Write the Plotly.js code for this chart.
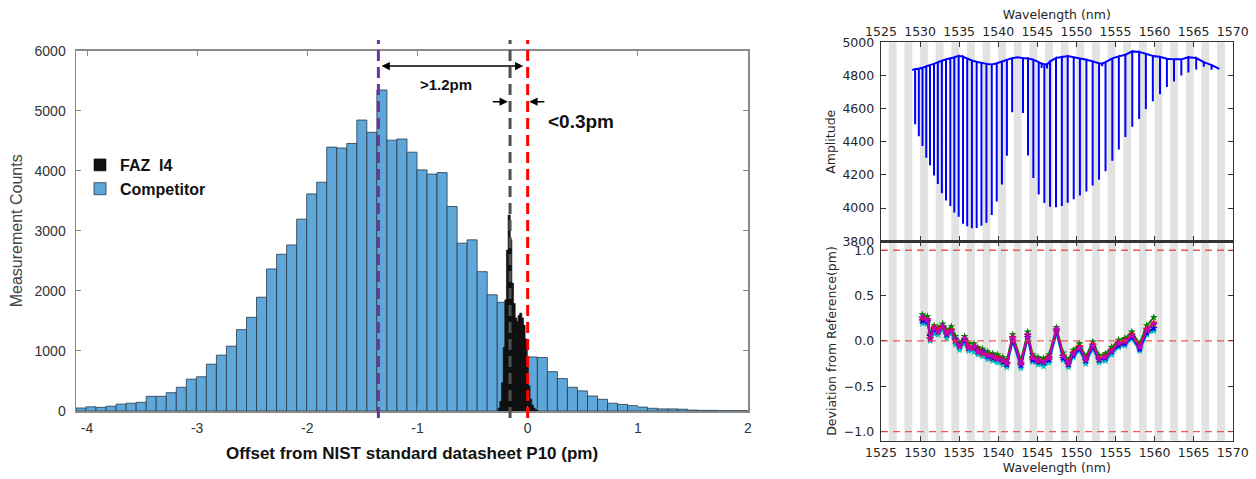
<!DOCTYPE html>
<html>
<head>
<meta charset="utf-8">
<script src="https://cdn.plot.ly/plotly-3.0.1.min.js"></script>
<style>
  html, body { margin: 0; padding: 0; background: #ffffff; }
  #chart { width: 1256px; height: 479px; }
</style>
</head>
<body>
<div id="chart"></div>
<script>
// ---------------- Left chart: histogram of offsets ----------------
const histBinStart = -4.1;        // left edge of first competitor bin (pm)
const histBinWidth = 0.09104;     // competitor bin width (pm)
const competitorCounts = [50, 70, 60, 80, 115, 130, 145, 245, 245, 305,
  395, 530, 570, 780, 930, 1080, 1355, 1560, 1895, 2365,
  2610, 2765, 3195, 3615, 3810, 4395, 4380, 4455, 4845, 4640,
  5345, 4510, 4530, 4310, 4015, 3945, 3970, 3405, 2795, 2850,
  2320, 1935, 1810, 1480, 1195, 900, 890, 655, 540, 395,
  335, 250, 195, 130, 110, 90, 65, 45, 35, 35,
  30, 15, 10, 10, 5, 5, 5];

const fazOffsets = [-0.258, -0.243, -0.228, -0.213, -0.198, -0.183, -0.168, -0.153,
  -0.138, -0.123, -0.108, -0.093, -0.078, -0.063, -0.048, -0.033, -0.018, -0.003,
  0.012, 0.027, 0.042, 0.057, 0.072, 0.087];
const fazCounts = [50, 160, 470, 1060, 1850, 2680, 3264, 2850,
  2130, 1790, 1550, 1490, 1590, 1630, 1550, 1430, 1200, 820,
  420, 200, 100, 50, 20, 5];
const fazBarWidth = 0.02;

const seriesNames = ['FAZ  I4', 'Competitor'];
const histTickVals = [-4, -3, -2, -1, 0, 1, 2];
const histTickText = ['-4', '-3', '-2', '-1', '0', '1', '2'];

// mean markers: competitor mean, FAZ mean, NIST reference
const meanLinesX = [-1.355, -0.16, 0];
const meanLineColors = ['#7030a0', '#505050', '#ff0000'];

// ---------------- Right chart: gas-cell spectrum ----------------
const specEdgeNm = [1529.0, 1568.3];
const specEdgeAmp = [4833, 4840];
const specNm = [1529.37, 1529.84, 1530.31, 1530.79, 1531.27, 1531.78, 1532.27, 1532.79, 1533.32, 1533.87,
  1534.38, 1534.94, 1535.49, 1536.03, 1536.63, 1537.24, 1537.85, 1538.49, 1539.17, 1539.81,
  1540.47, 1541.11, 1541.78, 1542.45, 1543.17, 1543.81, 1544.49, 1545.18, 1545.55, 1545.90,
  1546.25, 1546.63, 1547.39, 1548.14, 1548.89, 1549.66, 1550.45, 1551.28, 1552.08, 1552.90,
  1553.30, 1553.73, 1554.60, 1555.43, 1556.27, 1557.15, 1558.03, 1558.89, 1559.78, 1560.70,
  1561.58, 1562.49, 1563.43, 1564.33, 1565.33, 1566.30, 1567.30];
const specTop = [4838, 4841, 4846, 4855, 4862, 4870, 4880, 4889, 4897, 4903,
  4910, 4918, 4914, 4902, 4890, 4882, 4876, 4870, 4866, 4874,
  4884, 4894, 4904, 4910, 4905, 4903, 4895, 4880, 4872, 4868,
  4866, 4885, 4905, 4912, 4917, 4910, 4902, 4895, 4885, 4873,
  4872, 4880, 4903, 4915, 4925, 4945, 4942, 4930, 4918, 4912,
  4900, 4897, 4897, 4910, 4905, 4880, 4862];
const specLow = [4506, 4433, 4374, 4303, 4258, 4197, 4145, 4090, 4046, 4012,
  3973, 3948, 3905, 3890, 3878, 3880, 3893, 3912, 3958, 4040,
  4142, 4315, 4578, 4910, 4573, 4317, 4181, 4081, 4845, 4030,
  4842, 4008, 4005, 4012, 4032, 4053, 4076, 4100, 4136, 4170,
  4855, 4222, 4285, 4353, 4428, 4490, 4538, 4598, 4644, 4686,
  4730, 4763, 4799, 4818, 4836, 4852, 4835];

// channel bands (nm)
const bandStart = [1526, 1528, 1530, 1532, 1534, 1536, 1538, 1540, 1542, 1544, 1546,
  1548, 1550, 1552, 1554, 1556, 1558, 1560, 1562, 1564, 1566, 1568];
const bandWidthNm = 1;

// deviation from reference (pm), repeated measurements
const devNm = [1530.3, 1530.95, 1531.3, 1531.8, 1532.3, 1532.9, 1533.4, 1534.0, 1534.5, 1535.05,
  1535.7, 1536.2, 1536.9, 1537.4, 1538.0, 1538.65, 1539.3, 1539.9, 1540.6, 1541.1,
  1541.85, 1542.9, 1543.77, 1544.4, 1545.1, 1545.8, 1546.5, 1547.45, 1548.3, 1548.97,
  1549.6, 1550.4, 1551.2, 1552.1, 1552.9, 1553.7, 1554.5, 1555.4, 1556.2, 1557.1,
  1558.1, 1559.0, 1559.9];
const devK = [0.23, 0.22, 0.05, 0.13, 0.11, 0.16, 0.08, 0.12, 0.02, -0.05, 0.01, -0.07, -0.07, -0.11, -0.14, -0.16, -0.18, -0.19, -0.22, -0.25, 0.04, -0.26, 0.06, -0.19, -0.22, -0.23, -0.19, 0.12, -0.17, -0.25, -0.14, -0.07, -0.21, -0.05, -0.20, -0.18, -0.11, -0.03, -0.01, 0.06, -0.07, 0.12, 0.18];
const devY = [0.21, 0.20, 0.02, 0.11, 0.08, 0.13, 0.06, 0.09, -0.01, -0.08, -0.01, -0.09, -0.09, -0.13, -0.15, -0.18, -0.20, -0.22, -0.24, -0.27, 0.01, -0.27, 0.04, -0.21, -0.24, -0.25, -0.21, 0.10, -0.19, -0.27, -0.16, -0.09, -0.23, -0.07, -0.22, -0.20, -0.13, -0.05, -0.03, 0.04, -0.09, 0.10, 0.15];
const devC = [0.19, 0.19, 0.00, 0.08, 0.07, 0.12, 0.03, 0.08, -0.04, -0.10, -0.03, -0.11, -0.12, -0.15, -0.17, -0.20, -0.22, -0.24, -0.26, -0.29, -0.01, -0.30, 0.02, -0.23, -0.26, -0.28, -0.24, 0.08, -0.21, -0.29, -0.18, -0.11, -0.25, -0.09, -0.24, -0.22, -0.15, -0.07, -0.05, 0.02, -0.11, 0.07, 0.11];
const devG = [0.29, 0.27, 0.08, 0.17, 0.15, 0.19, 0.12, 0.16, 0.05, -0.02, 0.05, -0.03, -0.03, -0.07, -0.09, -0.12, -0.14, -0.15, -0.18, -0.21, 0.07, -0.21, 0.10, -0.15, -0.18, -0.19, -0.15, 0.15, -0.13, -0.21, -0.10, -0.03, -0.17, -0.01, -0.16, -0.14, -0.07, 0.01, 0.03, 0.10, -0.03, 0.17, 0.26];
const devB = [0.22, 0.21, 0.06, 0.12, 0.10, 0.15, 0.07, 0.11, 0.02, -0.05, 0.00, -0.08, -0.08, -0.12, -0.12, -0.17, -0.19, -0.20, -0.23, -0.26, 0.01, -0.27, 0.04, -0.21, -0.23, -0.24, -0.21, 0.10, -0.19, -0.26, -0.16, -0.09, -0.22, -0.07, -0.21, -0.19, -0.12, -0.05, -0.03, 0.04, -0.09, 0.09, 0.14];
const devR = [0.25, 0.24, 0.03, 0.15, 0.12, 0.15, 0.09, 0.12, 0.00, -0.06, 0.02, -0.06, -0.07, -0.10, -0.14, -0.15, -0.18, -0.18, -0.22, -0.24, 0.04, -0.24, 0.06, -0.18, -0.22, -0.22, -0.18, 0.12, -0.16, -0.24, -0.13, -0.06, -0.20, -0.04, -0.19, -0.17, -0.10, -0.02, 0.00, 0.07, -0.06, 0.13, 0.20];
const devM = [0.26, 0.23, 0.02, 0.14, 0.10, 0.16, 0.08, 0.11, 0.01, -0.06, 0.02, -0.08, -0.06, -0.12, -0.13, -0.16, -0.17, -0.20, -0.21, -0.25, 0.03, -0.25, 0.07, -0.19, -0.21, -0.23, -0.19, 0.13, -0.17, -0.25, -0.14, -0.07, -0.21, -0.05, -0.20, -0.18, -0.11, -0.03, -0.01, 0.06, -0.07, 0.12, 0.19];
const devSeries = [devK, devY, devC, devG, devB, devR, devM];
const devColors = ['#000000', '#bfbf00', '#00bfbf', '#008000', '#0000ff', '#ff0000', '#bf00bf'];
const devRefLines = [-1, 0, 1];

// ---------------- build ----------------
const W = 1256, H = 479;
const px = v => v / W;
const py = v => 1 - v / H;

const compX = competitorCounts.map((_, i) => histBinStart + (i + 0.5) * histBinWidth);

const traces = [];
traces.push({
  type: 'bar', name: seriesNames[1], x: compX, y: competitorCounts, width: histBinWidth,
  xaxis: 'x', yaxis: 'y',
  marker: { color: '#5fa7d9', line: { color: '#25384a', width: 0.8 } },
  hoverinfo: 'x+y'
});
traces.push({
  type: 'bar', name: seriesNames[0], x: fazOffsets, y: fazCounts, width: fazBarWidth,
  xaxis: 'x', yaxis: 'y',
  marker: { color: '#111111', line: { color: '#111111', width: 0.6 } }
});

// spectrum line
const sx = [specEdgeNm[0]], sy = [specEdgeAmp[0]];
specNm.forEach((nm, i) => { sx.push(nm, nm, nm); sy.push(specTop[i], specLow[i], specTop[i]); });
sx.push(specEdgeNm[1]); sy.push(specEdgeAmp[1]);
traces.push({
  type: 'scatter', mode: 'lines', x: sx, y: sy, xaxis: 'x2', yaxis: 'y2',
  line: { color: '#0000ff', width: 2 }, showlegend: false
});

devSeries.forEach((s, k) => {
  traces.push({
    type: 'scatter', mode: 'lines+markers', x: devNm, y: s, xaxis: 'x3', yaxis: 'y3',
    line: { color: devColors[k], width: 1.8 },
    marker: { color: devColors[k], size: 6, symbol: 'star' },
    showlegend: false
  });
});

const shapes = [];
meanLinesX.forEach((v, i) => {
  shapes.push({
    type: 'line', xref: 'x', yref: 'paper', x0: v, x1: v, y0: py(418), y1: py(40),
    line: { color: meanLineColors[i], width: 3, dash: '11px,6px' }, layer: 'above'
  });
});
['2', '3'].forEach(a => {
  bandStart.forEach(b => {
    shapes.push({
      type: 'rect', xref: 'x' + a, yref: 'y' + a + ' domain', x0: b, x1: b + bandWidthNm, y0: 0, y1: 1,
      fillcolor: '#e2e2e2', line: { width: 0 }, layer: 'below'
    });
  });
});
devRefLines.forEach(v => {
  shapes.push({
    type: 'line', xref: 'x3 domain', yref: 'y3', x0: 0, x1: 1, y0: v, y1: v,
    line: { color: 'rgba(240,60,60,0.85)', width: 1.3, dash: '7px,5px' }, layer: 'above'
  });
});

const bold = { family: 'Liberation Sans, Arial, sans-serif', color: '#111', weight: 'bold' };
const annotations = [
  { x: meanLinesX[1] + 0.12, y: 5745, ax: meanLinesX[0] + 0.015, ay: 5745, xref: 'x', yref: 'y', axref: 'x', ayref: 'y',
    text: '', showarrow: true, arrowhead: 2, startarrowhead: 2, arrowside: 'end+start', arrowsize: 1.1, startarrowsize: 1.1,
    arrowwidth: 1.5, arrowcolor: '#000', standoff: 0, startstandoff: 0 },
  { x: -0.743, y: 5440, xref: 'x', yref: 'y', text: '>1.2pm', showarrow: false,
    font: Object.assign({}, bold, { size: 15 }) },
  { x: meanLinesX[1] - 0.02, y: 5150, ax: meanLinesX[1] - 0.17, ay: 5150, xref: 'x', yref: 'y', axref: 'x', ayref: 'y',
    text: '', showarrow: true, arrowhead: 2, arrowsize: 1.1, arrowwidth: 1.5, arrowcolor: '#000', standoff: 0 },
  { x: meanLinesX[2] + 0.015, y: 5150, ax: meanLinesX[2] + 0.165, ay: 5150, xref: 'x', yref: 'y', axref: 'x', ayref: 'y',
    text: '', showarrow: true, arrowhead: 2, arrowsize: 1.1, arrowwidth: 1.5, arrowcolor: '#000', standoff: 0 },
  { x: 0.486, y: 4818, xref: 'x', yref: 'y', text: '<0.3pm', showarrow: false,
    font: Object.assign({}, bold, { size: 19 }) }
];

const leftTick = { family: 'Liberation Sans, Arial, sans-serif', size: 14, color: '#333' };
const rightTick = { family: 'DejaVu Sans, sans-serif', size: 12.5, color: '#262626' };
const frameL = { showline: true, linecolor: '#8a8a8a', linewidth: 1.5, mirror: 'ticks', ticks: 'inside',
  ticklen: 5, tickcolor: '#8a8a8a', showgrid: false, zeroline: false, automargin: false };
const frameR = { showline: true, linecolor: '#333', linewidth: 1.3, mirror: 'ticks', ticks: 'inside',
  ticklen: 5, tickcolor: '#333', showgrid: false, zeroline: false, automargin: false, tickfont: rightTick };

const layout = {
  width: W, height: H,
  margin: { l: 0, r: 0, t: 0, b: 0 },
  paper_bgcolor: '#ffffff', plot_bgcolor: '#ffffff',
  barmode: 'overlay', bargap: 0,
  showlegend: true,
  legend: { x: px(80), y: py(148), xanchor: 'left', yanchor: 'top', traceorder: 'reversed',
    bgcolor: 'rgba(0,0,0,0)', font: Object.assign({}, bold, { size: 16 }), tracegroupgap: 0 },
  xaxis: Object.assign({}, frameL, {
    domain: [px(76), px(748)], anchor: 'y', range: [histBinStart, 2.0],
    tickvals: histTickVals, ticktext: histTickText, tickfont: leftTick, ticklabelstandoff: 4,
    title: { text: 'Offset from NIST standard datasheet P10 (pm)', font: Object.assign({}, bold, { size: 17 }), standoff: 12 }
  }),
  yaxis: Object.assign({}, frameL, {
    domain: [py(411), py(50.7)], anchor: 'x', range: [0, 6000], dtick: 1000, tickfont: leftTick,
    ticklabelstandoff: 6,
    title: { text: 'Measurement Counts', font: { family: 'Liberation Sans, Arial, sans-serif', size: 16, color: '#444' }, standoff: 8 }
  }),
  xaxis2: Object.assign({}, frameR, {
    domain: [px(881), px(1232.7)], anchor: 'y2', side: 'top', range: [1525, 1570], dtick: 5,
    ticklabelstandoff: 0,
    title: { text: 'Wavelength (nm)', font: { family: 'DejaVu Sans, sans-serif', size: 12.5, color: '#262626' }, standoff: 1 }
  }),
  yaxis2: Object.assign({}, frameR, {
    domain: [py(241.2), py(42.3)], anchor: 'x2', range: [3800, 5000], dtick: 200,
    ticklabelstandoff: 3,
    title: { text: 'Amplitude', font: { family: 'DejaVu Sans, sans-serif', size: 12.5, color: '#262626' }, standoff: 4 }
  }),
  xaxis3: Object.assign({}, frameR, {
    domain: [px(881), px(1232.7)], anchor: 'y3', side: 'bottom', range: [1525, 1570], dtick: 5,
    ticklabelstandoff: 0,
    title: { text: 'Wavelength (nm)', font: { family: 'DejaVu Sans, sans-serif', size: 12.5, color: '#262626' }, standoff: 2 }
  }),
  yaxis3: Object.assign({}, frameR, {
    domain: [py(440.7), py(241.2)], anchor: 'x3', range: [-1.1, 1.1], tickvals: [-1, -0.5, 0, 0.5, 1],
    tickformat: '.1f', ticklabelstandoff: 3,
    title: { text: 'Deviation from Reference(pm)', font: { family: 'DejaVu Sans, sans-serif', size: 12.5, color: '#262626' }, standoff: 4 }
  }),
  shapes: shapes,
  annotations: annotations
};

Plotly.newPlot('chart', traces, layout, { displayModeBar: false, staticPlot: true });
</script>
</body>
</html>
